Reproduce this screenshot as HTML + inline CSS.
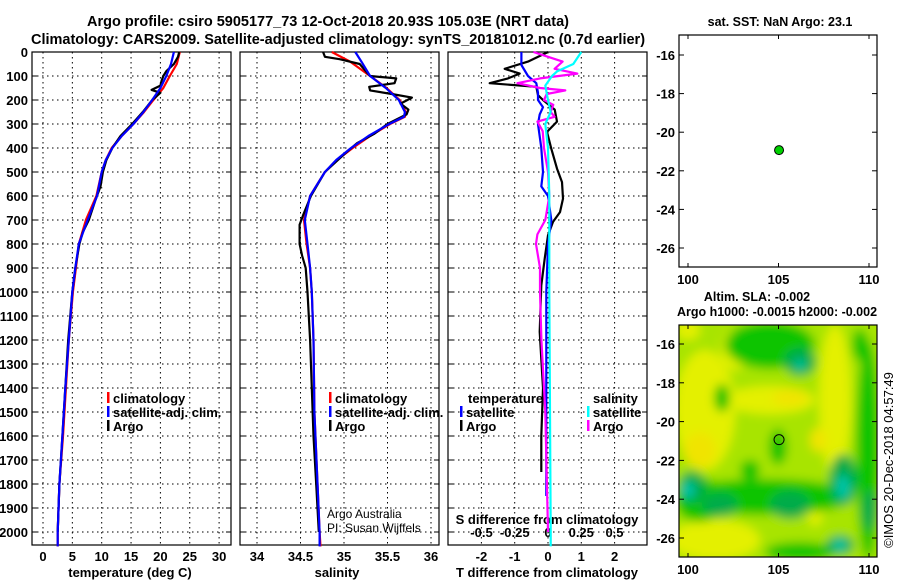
<!DOCTYPE html>
<html><head><meta charset="utf-8"><style>
body{margin:0;background:#fff;}
svg{display:block;font-family:"Liberation Sans",Arial,sans-serif;font-weight:bold;}
</style></head><body>
<svg id="chart" width="900" height="580" viewBox="0 0 900 580" xmlns="http://www.w3.org/2000/svg">
<defs>
<filter id="blur" x="-20%" y="-20%" width="140%" height="140%"><feGaussianBlur stdDeviation="5"/></filter>
<clipPath id="mapclip"><rect x="679" y="325" width="198" height="232"/></clipPath>
</defs>
<text x="328" y="26" font-size="14.5" text-anchor="middle">Argo profile: csiro 5905177_73 12-Oct-2018 20.93S 105.03E (NRT data)</text>
<text x="338" y="44" font-size="14.5" text-anchor="middle">Climatology: CARS2009. Satellite-adjusted climatology: synTS_20181012.nc (0.7d earlier)</text>
<g id="g"></g>
</svg>
<script>
// ---- data ----
const tDepth = [0,50,100,150,200,250,300,350,400,450,500,600,700,800,900,1000,1200,1400,1600,1800,2000,2060];
const tClim  = [23.3,22.8,21.6,20.5,18.8,17.2,15.4,13.4,11.7,10.7,10.0,9.1,7.3,6.1,5.6,5.1,4.4,3.9,3.4,2.8,2.5,2.5];
const tSat   = [22.3,21.8,21.0,20.0,18.6,17.1,15.4,13.4,11.8,10.7,10.0,9.2,7.6,6.1,5.5,5.0,4.4,3.8,3.3,2.8,2.5,2.5];
const argoTDepth = [0,20,50,80,100,120,140,158,170,200,250,300,350,400,450,500,560,620,700,750,800,900,1000,1200,1400,1600,1800,2000];
const argoT      = [23.2,23.0,22.3,21.0,20.5,20.2,20.0,18.5,20.0,18.6,17.0,15.2,13.2,11.8,10.8,10.2,9.8,8.9,7.8,6.8,6.2,5.5,5.0,4.3,3.8,3.3,2.8,2.5];
const sDepth = [0,40,100,150,200,250,270,300,350,400,450,500,600,700,800,900,1000,1200,1500,2000,2060];
const sClim  = [34.86,35.07,35.3,35.49,35.64,35.71,35.7,35.53,35.3,35.1,34.92,34.78,34.61,34.54,34.57,34.61,34.63,34.65,34.66,34.72,34.73];
const sSat   = [35.13,35.2,35.3,35.48,35.63,35.7,35.69,35.52,35.28,35.08,34.91,34.78,34.61,34.55,34.58,34.61,34.63,34.65,34.66,34.72,34.72];
const argoSDepth = [0,20,30,50,80,100,110,130,145,160,175,190,215,240,260,300,340,380,420,500,600,680,720,800,850,900,1000,1200,1400,1600,1800,2000];
const argoS      = [34.76,34.78,34.95,35.18,35.25,35.3,35.6,35.58,35.29,35.3,35.55,35.78,35.65,35.74,35.72,35.5,35.35,35.15,35.02,34.78,34.62,34.53,34.49,34.49,34.52,34.56,34.58,34.61,34.63,34.65,34.68,34.71];
const dTArgoDepth = [0,40,70,90,110,130,145,180,200,240,290,333,403,486,542,611,667,708,764,861,972,1166,1400,1600,1750];
const dTArgo      = [0,-0.6,-1.3,-0.85,-1.2,-1.75,-0.35,-0.3,-0.15,0.2,0.27,-0.03,0.1,0.27,0.42,0.45,0.36,0.15,0,-0.1,-0.2,-0.25,-0.15,-0.2,-0.2];
const dTSatDepth = [0,54,100,130,170,200,230,260,300,400,500,560,600,700,800,1000,1200,1850];
const dTSat      = [-0.8,-0.8,-0.6,-0.35,-0.3,-0.3,-0.15,-0.25,-0.3,-0.2,-0.15,-0.2,0,0.1,0,-0.05,-0.05,-0.05];
const dSArgoDepth = [0,20,40,70,90,110,130,150,160,175,200,220,250,270,290,330,400,500,600,700,760,800,900,1000,1200,1500,2000];
const dSArgo      = [-0.11,0,0.11,0.05,0.22,-0.06,-0.23,-0.06,0.13,-0.01,-0.03,0.04,0.02,0.05,-0.08,-0.04,-0.03,0,0.01,-0.02,-0.08,-0.09,-0.06,-0.06,-0.05,-0.02,0];
const dSSatDepth = [0,50,80,100,140,200,250,300,400,600,1000,2000,2060];
const dSSat      = [0.25,0.19,0.07,0.03,-0.02,0,0.02,-0.02,0,0.01,0.01,0.02,0.02];
const depthTicks = [0,100,200,300,400,500,600,700,800,900,1000,1100,1200,1300,1400,1500,1600,1700,1800,1900,2000];
const tTicks = [0,5,10,15,20,25,30];
const sTicks = [34,34.5,35,35.5,36];
const dTTicks = [-2,-1,0,1,2];
const dSTicks = [-0.5,-0.25,0,0.25,0.5];
const lonTicks = [100,105,110];
const latTicks = [-16,-18,-20,-22,-24,-26];
const argoLon = 105.03, argoLat = -20.93;

// ---- scales ----
const TOP=52, BOT=545;
const yD = d => TOP + d*0.24;
const xT = t => 43 + t*5.87;
const xS = s => 257 + (s-34)*87;
const xdT = v => 548 + v*33.3;
const xdS = v => 548 + v*133;
const xLon = l => 688 + (l-100)*18.1;
const yLat1 = l => 55 + (-16-l)*19.3;
const yLat2 = l => 344 + (-16-l)*19.4;

const NS="http://www.w3.org/2000/svg";
const G=document.getElementById('g');
function mk(tag,attrs,parent){const e=document.createElementNS(NS,tag);for(const k in attrs)e.setAttribute(k,attrs[k]);(parent||G).appendChild(e);return e;}
function txt(x,y,s,size,anchor,parent){const e=mk('text',{x:x,y:y,'font-size':size,'text-anchor':anchor||'start'},parent);e.textContent=s;return e;}

const panels=[{x0:32,x1:231,name:'temperature'},{x0:240,x1:439,name:'salinity'},{x0:448,x1:647,name:'difference'}];
const xgrid=[tTicks.map(xT), sTicks.map(xS), dTTicks.map(xdT)];
panels.forEach((p,i)=>{
  const pg=mk('g',{});
  
  
  depthTicks.forEach(d=>{
    const l=mk('line',{x1:p.x0,x2:p.x1,y1:yD(d),y2:yD(d),stroke:'#000','stroke-width':1,'stroke-dasharray':'1.5 3.5'},pg);
    
    
    mk('line',{x1:p.x0,x2:p.x0+5,y1:yD(d),y2:yD(d),stroke:'#000'},pg);
    mk('line',{x1:p.x1-5,x2:p.x1,y1:yD(d),y2:yD(d),stroke:'#000'},pg);
  });
  xgrid[i].forEach(x=>{
    const l=mk('line',{x1:x,x2:x,y1:TOP,y2:BOT,stroke:'#000','stroke-width':1,'stroke-dasharray':'1.5 3.5'},pg);
    
    
  });
  const r=mk('rect',{x:p.x0,y:TOP,width:p.x1-p.x0,height:BOT-TOP,fill:'none',stroke:'#000','stroke-width':1.2},pg);
  
  
});
depthTicks.forEach(d=>{
  const t=txt(28,yD(d)+5,String(d),13,'end');
  
  
});
tTicks.forEach(v=>{const t=txt(xT(v),561,String(v),13,'middle');});
sTicks.forEach(v=>{const t=txt(xS(v),561,String(v),13,'middle');});
dTTicks.forEach(v=>{const t=txt(xdT(v),561,String(v),13,'middle');});
dSTicks.forEach(v=>{const t=txt(xdS(v),537,String(v),13,'middle');});
let e;
e=txt(130,577,'temperature (deg C)',13,'middle');
e=txt(337,577,'salinity',13,'middle');
e=txt(547,577,'T difference from climatology',13,'middle');
e=txt(547,524,'S difference from climatology',13,'middle');

function line(xs,ds,fx,color,name){
  const pts=xs.map((v,i)=>fx(v).toFixed(1)+','+yD(ds[i]).toFixed(1)).join(' ');
  const pl=mk('polyline',{points:pts,fill:'none',stroke:color,'stroke-width':2.2,'stroke-linejoin':'round'});
  
  
}
line(tClim,tDepth,xT,'#ff0000','temperature-climatology-line');
line(argoT,argoTDepth,xT,'#000','temperature-argo-line');
line(tSat,tDepth,xT,'#0000ff','temperature-satellite-line');
line(sClim,sDepth,xS,'#ff0000','salinity-climatology-line');
line(argoS,argoSDepth,xS,'#000','salinity-argo-line');
line(sSat,sDepth,xS,'#0000ff','salinity-satellite-line');
line(dTArgo,dTArgoDepth,xdT,'#000','t-diff-argo-line');
line(dTSat,dTSatDepth,xdT,'#0000ff','t-diff-satellite-line');
line(dSArgo,dSArgoDepth,xdS,'#ff00ff','s-diff-argo-line');
line(dSSat,dSSatDepth,xdS,'#00ffff','s-diff-satellite-line');

function legendEntry(x,y,color,label,name){
  const g=mk('g',{});
  
  
  mk('rect',{x:x,y:y-11,width:2.5,height:11,fill:color},g);
  txt(x+6,y,label,13,'start',g);
}
legendEntry(107,403,'#ff0000','climatology','legend-entry-climatology');
legendEntry(107,417,'#0000ff','satellite-adj. clim.','legend-entry-satellite-adj');
legendEntry(107,431,'#000','Argo','legend-entry-argo');
legendEntry(329,403,'#ff0000','climatology','legend-entry-climatology');
legendEntry(329,417,'#0000ff','satellite-adj. clim.','legend-entry-satellite-adj');
legendEntry(329,431,'#000','Argo','legend-entry-argo');
e=txt(468,403,'temperature',13);
e=txt(593,403,'salinity',13);
legendEntry(460,417,'#0000ff','satellite','legend-entry-t-satellite');
legendEntry(460,431,'#000','Argo','legend-entry-t-argo');
legendEntry(587,417,'#00ffff','satellite','legend-entry-s-satellite');
legendEntry(587,431,'#ff00ff','Argo','legend-entry-s-argo');
e=txt(327,518,'Argo Australia',12);e.setAttribute('font-weight','normal');
e=txt(327,532,'PI: Susan Wijffels',12);e.setAttribute('font-weight','normal');

// ---- maps ----
function mapAxes(y0,y1,yLat,name){
  const g=mk('g',{});
  
  
  mk('rect',{x:679,y:y0,width:198,height:y1-y0,fill:'none',stroke:'#000','stroke-width':1.2},g);
  latTicks.forEach(l=>{const y=yLat(l);mk('line',{x1:679,x2:684,y1:y,y2:y,stroke:'#000'},g);mk('line',{x1:872,x2:877,y1:y,y2:y,stroke:'#000'},g);txt(675,y+5,String(l),13,'end',g);});
  lonTicks.forEach(l=>{const x=xLon(l);mk('line',{x1:x,x2:x,y1:y0,y2:y0+4,stroke:'#000'},g);mk('line',{x1:x,x2:x,y1:y1-4,y2:y1,stroke:'#000'},g);txt(x,y1+17,String(l),13,'middle',g);});
}
const mg=mk('g',{'clip-path':'url(#mapclip)'});


mk('rect',{x:679,y:325,width:198,height:232,fill:'#b8e800'},mg);
const bf=mk('g',{filter:'url(#blur)'},mg);
mk('rect',{x:660,y:300,width:240,height:280,fill:'#a8e400'},bf);
[['#e4f000',[[705,410,30,60],[770,400,45,14],[835,400,16,75],[715,540,45,20],[815,510,8,16],[688,330,12,10],[735,350,14,20]]],
 ['#f0e400',[[700,450,16,18],[790,398,18,8],[818,440,8,12]]],
 ['#10c400',[[770,345,45,24],[722,398,8,14],[778,447,9,18],[868,450,12,110],[765,497,90,18],[700,500,25,22],[800,552,35,10],[860,345,8,16],[750,470,10,10]]],
 ['#00ac48',[[800,362,16,14],[692,487,14,16],[720,505,18,12],[790,505,20,14],[843,480,14,26],[840,545,14,10],[870,510,8,20]]],
 ['#00c8b0',[[843,487,6,12],[840,545,6,6],[688,490,6,8],[800,365,5,5]]]
].forEach(([c,list])=>list.forEach(a=>mk('ellipse',{cx:a[0],cy:a[1],rx:a[2],ry:a[3],fill:c},bf)));
mapAxes(35,267,yLat1,'sst-map-axes');
mapAxes(325,557,yLat2,'sla-map-axes');
e=mk('circle',{cx:xLon(argoLon),cy:yLat1(argoLat),r:4.5,fill:'#00d000',stroke:'#000','stroke-width':1});

e=mk('circle',{cx:xLon(argoLon),cy:yLat2(argoLat),r:5,fill:'none',stroke:'#000','stroke-width':1});

e=txt(780,26,'sat. SST: NaN Argo: 23.1',12.5,'middle');
e=txt(757,301,'Altim. SLA: -0.002',12.5,'middle');
e=txt(777,316,'Argo h1000: -0.0015 h2000: -0.002',12.5,'middle');
e=txt(0,0,'©IMOS 20-Dec-2018 04:57:49',13,'middle');e.setAttribute('font-weight','normal');
e.setAttribute('transform','translate(893,460) rotate(-90)');

</script>
</body></html>
